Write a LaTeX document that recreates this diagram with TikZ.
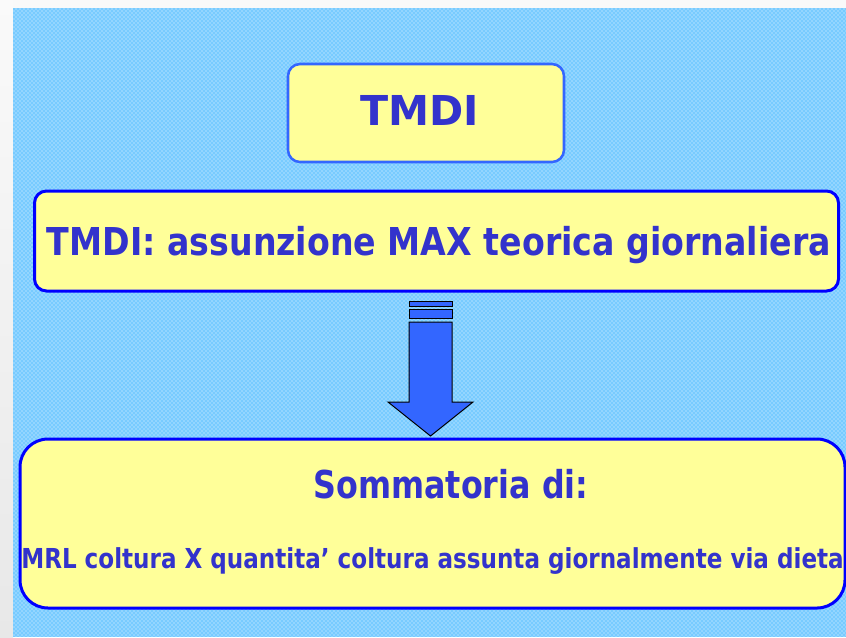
\documentclass[tikz,border=0pt]{standalone}
\usepackage{fontspec}
\setmainfont{DejaVu Sans}
\usetikzlibrary{patterns,positioning}

\definecolor{sfondo}{RGB}{120,203,255}
\definecolor{puntini}{RGB}{240,250,255}
\definecolor{giallo}{RGB}{255,255,153}
\definecolor{bordo}{RGB}{51,102,255}
\definecolor{blu}{RGB}{0,0,255}
\definecolor{testo}{RGB}{51,51,204}
\definecolor{freccia}{RGB}{51,102,255}

\tikzset{every picture/.style={line width=0.75pt}}
\tikzset{
  titolobox/.style={draw=bordo, line width=1.9pt, fill=giallo, rounded corners=9pt, minimum width=207pt, minimum height=73.5pt, inner sep=0pt},
  riquadro/.style={draw=blu, line width=2.25pt, fill=giallo, rounded corners=9pt, inner sep=0pt},
  scritta/.style={text=testo, font=\bfseries, inner sep=0pt, anchor=base}
}

\begin{document}
\begin{tikzpicture}[x=0.75pt,y=0.75pt,yscale=-1,xscale=1]
	\useasboundingbox (0,0) rectangle (846,637);
	
	%Shape: Rectangle [background]
	\fill [gray!5] (0,0) rectangle (846,637);
	\shade [top color=gray!4, bottom color=gray!18] (0,0) rectangle (13,637);
	\fill [sfondo] (13,8) rectangle (846,637);
	\fill [pattern=crosshatch dots, pattern color=puntini] (13,8) rectangle (846,637);
	
	%Shape: Rounded Rectangle [title]
	\node [titolobox] (tmdi) at (426,113) {};
	%Shape: Rounded Rectangle [definition]
	\node [riquadro, minimum width=603pt, minimum height=75pt] (assunzione) at (436.5,241) {};
	%Shape: Rounded Rectangle [sum]
	\node [riquadro, rounded corners=21pt, minimum width=618.75pt, minimum height=126.75pt] (somma) at (432.5,523.5) {};
	
	%Shape: Down Arrow
	\draw [draw=black, line width=0.75, fill=freccia] (409,301) rectangle (452,306);
	\draw [draw=black, line width=0.75, fill=freccia] (409,309) rectangle (452,318);
	\draw [draw=black, line width=0.75, fill=freccia] (409,322) -- (452,322) -- (452,402) -- (473,402) -- (430.5,436) -- (388,402) -- (409,402) -- cycle ;
	
	% Text Node
	\node [scritta, font=\fontsize{30.9}{36}\bfseries] (t1) at (420,125) {TMDI};
	% Text Node
	\node [scritta, font=\fontsize{28.8}{34}\bfseries] (t2) at (439,255) {\scalebox{0.865}[1]{TMDI: assunzione MAX teorica giornaliera}};
	% Text Node
	\node [scritta, font=\fontsize{28.8}{34}\bfseries] (t3) at (451,498) {\scalebox{0.827}[1]{Sommatoria di:}};
	% Text Node
	\node [scritta, font=\fontsize{20.6}{24}\bfseries] (t4) at (432.5,568) {\scalebox{0.84}[1]{MRL coltura X quantita’ coltura assunta giornalmente via dieta}};
	
\end{tikzpicture}
\end{document}
